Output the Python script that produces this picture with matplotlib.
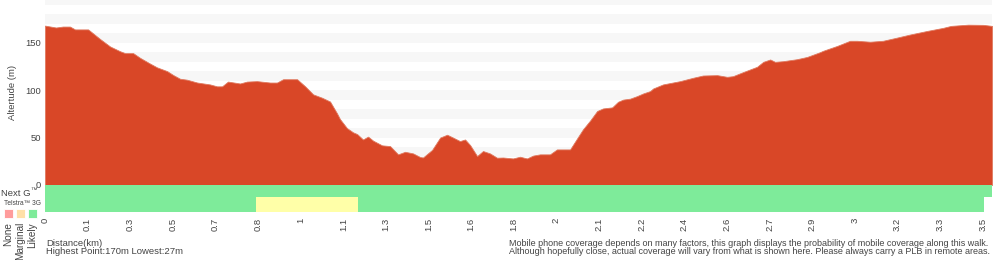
import matplotlib
matplotlib.use("Agg")
import matplotlib.pyplot as plt
from matplotlib.patches import Rectangle

plt.rcParams['font.family'] = ['Liberation Sans', 'DejaVu Sans']

# ---- data ----
distance_km = [0.000, 0.041, 0.067, 0.093, 0.112, 0.161, 0.205, 0.243, 0.280, 0.299,
               0.329, 0.355, 0.392, 0.418, 0.456, 0.478, 0.504, 0.530, 0.568, 0.616,
               0.642, 0.661, 0.683, 0.728, 0.754, 0.791, 0.840, 0.866, 0.889, 0.941,
               0.971, 1.001, 1.034, 1.064, 1.090, 1.101, 1.127, 1.150, 1.165, 1.187,
               1.206, 1.225, 1.258, 1.288, 1.318, 1.344, 1.374, 1.400, 1.411, 1.445,
               1.475, 1.501, 1.523, 1.549, 1.568, 1.587, 1.613, 1.635, 1.661, 1.687,
               1.710, 1.747, 1.773, 1.799, 1.822, 1.848, 1.885, 1.911, 1.960, 1.986,
               2.008, 2.035, 2.061, 2.083, 2.117, 2.139, 2.158, 2.184, 2.210, 2.233,
               2.259, 2.270, 2.307, 2.371, 2.419, 2.456, 2.509, 2.546, 2.568, 2.606,
               2.658, 2.681, 2.707, 2.725, 2.755, 2.807, 2.845, 2.893, 2.904, 2.957,
               3.005, 3.031, 3.080, 3.128, 3.181, 3.229, 3.293, 3.352, 3.382, 3.446,
               3.502, 3.535]
altitude_m = [168, 166, 167, 167, 164, 164, 154, 146, 141, 139,
              139, 134, 128, 124, 120, 116, 112, 111, 108, 106,
              104, 104, 109, 107, 109, 109.5, 108, 108, 111.5, 111.5,
              104, 95.5, 92, 88, 75.5, 69.5, 60, 55.5, 53.7, 48,
              51, 46.7, 41.8, 41, 32.3, 35, 33.3, 29.5, 29, 37,
              50, 53, 50, 46.3, 48, 42, 30.5, 35.8, 33.3, 28.8,
              29, 28, 29.8, 28, 31, 32.3, 32.3, 37.5, 37.5, 49,
              58.6, 68, 78, 80.7, 81.8, 87.7, 90, 91, 93.7, 96.5,
              99, 101.7, 106, 109.5, 113, 115.4, 115.8, 114, 114.7, 119,
              124.6, 129.8, 132.3, 129.8, 130.5, 132.6, 135, 140, 141.4, 146.6,
              152, 152, 151, 152, 155.4, 158.6, 162.4, 165.6, 167.7, 169,
              168.8, 167.7]

tick_labels = ['0', '0.1', '0.3', '0.5', '0.7', '0.8', '1', '1.1', '1.3', '1.5', '1.6',
               '1.8', '2', '2.1', '2.2', '2.4', '2.6', '2.7', '2.9', '3', '3.2', '3.3', '3.5']
total_km = 3.5

# coverage segments: (start_km, end_km, level)
nextg_segments = [(0.0, 3.535, 'Likely')]
telstra3g_segments = [(0.0, 0.788, 'Likely'), (0.788, 1.169, 'Marginal'),
                      (1.169, 3.506, 'Likely')]
legend_levels = ['None', 'Marginal', 'Likely']

highest = 170
lowest = 27

# ---- styles ----
AREA = '#d94727'
STRIPE = '#f7f7f7'
LEVEL_COLORS = {'None': '#ff9c9c', 'Marginal': '#ffffa8', 'Likely': '#7eeb9a'}
LEGEND_COLORS = {'None': '#ff9c9c', 'Marginal': '#ffe0a8', 'Likely': '#7eeb9a'}
TXT = '#444444'

W, H = 1000, 260
fig = plt.figure(figsize=(W / 100, H / 100), dpi=100)

def fx(px):
    return px / W

def fy(py):
    return 1 - py / H

xmax = distance_km[-1]

# main altitude axes
ax = fig.add_axes([fx(45), fy(185), fx(992) - fx(45), fy(0) - fy(185)])
ax.set_xlim(0, xmax)
ax.set_ylim(0, 195)
for lo in range(10, 200, 20):
    ax.axhspan(lo, lo + 10, color=STRIPE, lw=0, zorder=0)
ax.fill_between(distance_km, altitude_m, 0, color=AREA, lw=0.6, edgecolor='#e07a60', zorder=2)
for s in ax.spines.values():
    s.set_visible(False)
ax.set_xticks([])
ax.set_yticks([0, 50, 100, 150])
ax.set_yticklabels(['0', '50', '100', '150'], fontsize=6.8, color=TXT)
ax.tick_params(axis='y', length=0, pad=3)
ax.set_ylabel('Altertude (m)', fontsize=6.8, color=TXT, labelpad=6)

# coverage axes
cax = fig.add_axes([fx(45), fy(212), fx(992) - fx(45), fy(185) - fy(212)])
cax.set_xlim(0, xmax)
cax.set_ylim(0, 27)
for s, e, lvl in nextg_segments:
    cax.add_patch(Rectangle((s, 15.3), e - s, 11.7, color=LEVEL_COLORS[lvl], lw=0))
for s, e, lvl in telstra3g_segments:
    cax.add_patch(Rectangle((s, 0), e - s, 15.3, color=LEVEL_COLORS[lvl], lw=0))
for s in cax.spines.values():
    s.set_visible(False)
cax.set_yticks([])
tick_pos = [i * total_km / (len(tick_labels) - 1) for i in range(len(tick_labels))]
cax.set_xticks(tick_pos)
cax.set_xticklabels(tick_labels, rotation=90, fontsize=6.8, color=TXT, va='top')
cax.tick_params(axis='x', length=0, pad=4)

# left side labels
fig.text(fx(1), fy(193), 'Next G', fontsize=6.8, color=TXT, ha='left', va='center')
fig.text(fx(30.5), fy(191), '™', fontsize=4.8, color=TXT, ha='left', va='center')
fig.text(fx(22), fy(203.5), 'Telstra™ 3G', fontsize=4.8, color=TXT, ha='center', va='center')
for i, lvl in enumerate(legend_levels):
    x0 = 4 + i * 12
    fig.patches.append(Rectangle((fx(x0), fy(218)), fx(9), 9 / H, transform=fig.transFigure,
                                 facecolor=LEGEND_COLORS[lvl], edgecolor='white', lw=0.6))
    fig.text(fx(x0 + 4.5), fy(222), lvl, rotation=90, fontsize=7.2, color=TXT,
             ha='center', va='top')

fig.text(fx(46), fy(243), 'Distance(km)', fontsize=6.8, color=TXT, ha='left', va='center')
fig.text(fx(46), fy(252), f'Highest Point:{highest}m Lowest:{lowest}m', fontsize=6.8,
         color=TXT, ha='left', va='center')

fig.text(fx(509), fy(243),
         'Mobile phone coverage depends on many factors, this graph displays the probability of mobile coverage along this walk.',
         fontsize=6.5, color=TXT, ha='left', va='center')
fig.text(fx(509), fy(252),
         'Although hopefully close, actual coverage will vary from what is shown here. Please always carry a PLB in remote areas.',
         fontsize=6.5, color=TXT, ha='left', va='center')

fig.savefig('out.png', dpi=100)
